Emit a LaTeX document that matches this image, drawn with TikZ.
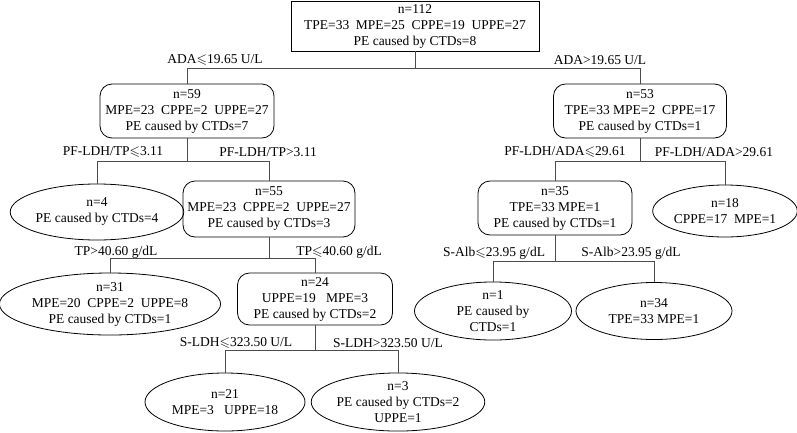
\documentclass[tikz,border=0pt]{standalone}
\usepackage{amssymb}
\usepackage{fontspec}
\setmainfont{Liberation Serif}
\usetikzlibrary{shapes.geometric}
\begin{document}
\begin{tikzpicture}[x=1pt, y=-1pt,
  every node/.style={font=\fontsize{13.5}{16}\selectfont, align=center, inner sep=0pt},
  sqbox/.style={draw, line width=0.8pt},
  rbox/.style={draw, line width=0.8pt, rounded corners=12pt},
  oval/.style={draw, line width=0.8pt, ellipse},
  cond/.style={},
  link/.style={draw=black!70, line width=0.8pt}]
\useasboundingbox (0,0) rectangle (797,432);
\node[sqbox, minimum width=248pt, minimum height=50pt] (n112) at (415,26){n=112\\TPE=33\ \ MPE=25\ \ CPPE=19\ \ UPPE=27\\PE caused by CTDs=8};
\node[rbox, minimum width=174pt, minimum height=54pt] (n59) at (187,111){n=59\\MPE=23\ \ CPPE=2\ \ UPPE=27\\PE caused by CTDs=7};
\node[rbox, minimum width=173pt, minimum height=54pt] (n53) at (640,111){n=53\\TPE=33 MPE=2\ \ CPPE=17\\PE caused by CTDs=1};
\coordinate (s0) at (415,68);
\draw[link](n112) -- (s0);
\draw[link](s0) -| (n59);
\draw[link](s0) -| (n53);
\node[cond] (c0a) at (215,60){ADA$\leqslant$19.65 U/L};
\node[cond] (c0b) at (600,60){ADA>19.65 U/L};
\node[oval, minimum width=158pt, minimum height=56pt] (n4) at (97,212){n=4\\PE caused by CTDs=4};
\node[rbox, minimum width=172pt, minimum height=56pt] (n55) at (269,209){n=55\\MPE=23\ \ CPPE=2\ \ UPPE=27\\PE caused by CTDs=3};
\coordinate (s1) at (187,161);
\draw[link](n59) -- (s1);
\draw[link](s1) -| (n4);
\draw[link](s1) -| (n55);
\node[cond] (c1a) at (113,152){PF-LDH/TP$\leqslant$3.11};
\node[cond] (c1b) at (268,152){PF-LDH/TP>3.11};
\node[rbox, minimum width=154pt, minimum height=54pt] (n35) at (555,208){n=35\\TPE=33 MPE=1\\PE caused by CTDs=1};
\node[oval, minimum width=136pt, minimum height=52pt] (n18) at (725,211){n=18\\CPPE=17\ \ MPE=1};
\coordinate (s2) at (640,161);
\draw[link](n53) -- (s2);
\draw[link](s2) -| (n35);
\draw[link](s2) -| (n18);
\node[cond] (c2a) at (565,152){PF-LDH/ADA$\leqslant$29.61};
\node[cond] (c2b) at (714,152){PF-LDH/ADA>29.61};
\node[oval, minimum width=216pt, minimum height=58pt] (n31) at (110,304){n=31\\MPE=20\ \ CPPE=2\ \ UPPE=8\\PE caused by CTDs=1};
\node[rbox, minimum width=155pt, minimum height=52pt] (n24) at (315,299){n=24\\UPPE=19\ \ \ MPE=3\\PE caused by CTDs=2};
\coordinate (s3) at (269,258);
\draw[link](n55) -- (s3);
\draw[link](s3) -| (n31);
\draw[link](s3) -| (n24);
\node[cond] (c3a) at (116,252){TP>40.60 g/dL};
\node[cond] (c3b) at (339,252){TP$\leqslant$40.60 g/dL};
\node[oval, minimum width=157pt, minimum height=57pt] (n1) at (493,311){n=1\\PE caused by\\CTDs=1};
\node[oval, minimum width=156pt, minimum height=57pt] (n34) at (654,311){n=34\\TPE=33 MPE=1};
\coordinate (s4) at (555,261);
\draw[link](n35) -- (s4);
\draw[link](s4) -| (n1);
\draw[link](s4) -| (n34);
\node[cond] (c4a) at (494,253){S-Alb$\leqslant$23.95 g/dL};
\node[cond] (c4b) at (631,253){S-Alb>23.95 g/dL};
\node[oval, minimum width=160pt, minimum height=58pt] (n21) at (225,402){n=21\\MPE=3\ \ \ UPPE=18};
\node[oval, minimum width=160pt, minimum height=58pt] (n3) at (398,402){n=3\\PE caused by CTDs=2\\UPPE=1};
\coordinate (s5) at (315,350);
\draw[link](n24) -- (s5);
\draw[link](s5) -| (n21);
\draw[link](s5) -| (n3);
\node[cond] (c5a) at (236,343){S-LDH$\leqslant$323.50 U/L};
\node[cond] (c5b) at (388,343){S-LDH>323.50 U/L};
\end{tikzpicture}
\end{document}
